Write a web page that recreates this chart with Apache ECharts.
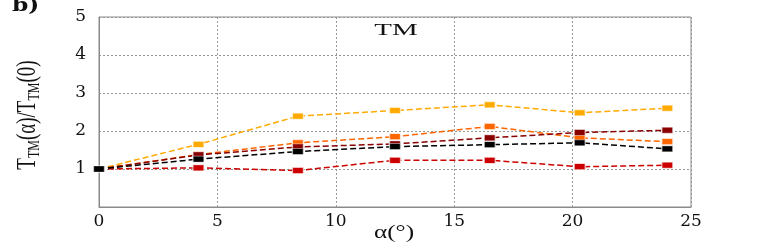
<!DOCTYPE html>
<html>
<head>
<meta charset="utf-8">
<script src="https://cdn.jsdelivr.net/npm/echarts@6/dist/echarts.min.js"></script>
<style>html,body{margin:0;padding:0;background:#fff}#c{width:764px;height:243px}</style>
</head>
<body>
<div id="c"></div>
<script>
var angles = [0, 4.2, 8.4, 12.5, 16.5, 20.3, 24];
var yellowVals  = [1, 1.65, 2.39, 2.54, 2.69, 2.48, 2.60];
var redVals     = [1, 1.03, 0.96, 1.23, 1.23, 1.06, 1.10];
var orangeVals  = [1, 1.38, 1.69, 1.85, 2.12, 1.82, 1.72];
var darkredVals = [1, 1.37, 1.58, 1.66, 1.82, 1.96, 2.02];
var blackVals   = [1, 1.26, 1.46, 1.59, 1.64, 1.69, 1.53];
var xTicks = [0, 5, 10, 15, 20, 25];
var yTicks = [0, 1, 2, 3, 4, 5];

function pairs(v){ return angles.map(function(a,i){ return [a, v[i]]; }); }
function mk(name, vals, color){
  return {
    name: name, type: 'line', data: pairs(vals),
    symbol: 'rect', symbolSize: [11, 6],
    lineStyle: {color: color, width: 1.5, type: [6, 3]},
    itemStyle: {color: color, borderColor: 'rgba(255,255,255,0.6)', borderWidth: 1},
    emphasis: {disabled: true}, animation: false, z: 3
  };
}
var serif = '"DejaVu Serif", "Liberation Serif", serif';
var chart = echarts.init(document.getElementById('c'));
chart.setOption({
  animation: false,
  grid: {left: 99, right: 73, top: 17, bottom: 36, show: true, borderColor: '#8a8a8a', borderWidth: 1},
  xAxis: {
    type: 'value', min: 0, max: 25, interval: 5,
    axisLine: {show: true, onZero: false, lineStyle: {color: '#8a8a8a'}},
    axisTick: {show: false},
    axisLabel: {color: '#111', fontFamily: serif, fontSize: 17, margin: 6,
      formatter: function(v){ return xTicks.indexOf(v) >= 0 ? String(v) : ''; }},
    splitLine: {show: true, lineStyle: {color: '#999', type: [2, 2], width: 1}}
  },
  yAxis: {
    type: 'value', min: 0, max: 5, interval: 1,
    axisLine: {show: true, lineStyle: {color: '#8a8a8a'}},
    axisTick: {show: false},
    axisLabel: {color: '#111', fontFamily: serif, fontSize: 17, margin: 13,
      formatter: function(v){ return (yTicks.indexOf(v) >= 0 && v !== 0) ? String(v) : ''; }},
    splitLine: {show: true, lineStyle: {color: '#999', type: [2, 2], width: 1}}
  },
  series: [
    mk('yellow', yellowVals, '#ffaa00'),
    mk('red', redVals, '#cc0000'),
    mk('orange', orangeVals, '#ff6600'),
    mk('darkred', darkredVals, '#880000'),
    mk('black', blackVals, '#000000')
  ],
  graphic: [
    {type: 'text', left: 12, top: -3, style: {text: 'b)', font: 'bold 18px ' + serif, fill: '#111'}, scaleX: 1.3},
    {type: 'text', x: 396, y: 31, scaleX: 1.7, style: {text: 'TM', font: '17px "Liberation Serif", serif', fill: '#111', align: 'center', verticalAlign: 'middle'}},
    {type: 'text', x: 394, y: 233, scaleX: 1.4, style: {text: 'α(°)', font: '18px "Liberation Serif", serif', fill: '#111', align: 'center', verticalAlign: 'middle'}},
    {type: 'text', x: 28, y: 115, rotation: Math.PI/2, scaleY: 1.4,
      style: {text: 'T{s|TM}(α)/T{s|TM}(0)', font: 'normal 19px "Liberation Serif", serif', fill: '#111', align: 'center', verticalAlign: 'middle',
        rich: {s: {font: 'normal 12px "Liberation Serif", serif', fill: '#111', padding: [9, 0, 0, 0]}}}}
  ]
});
</script>
</body>
</html>
